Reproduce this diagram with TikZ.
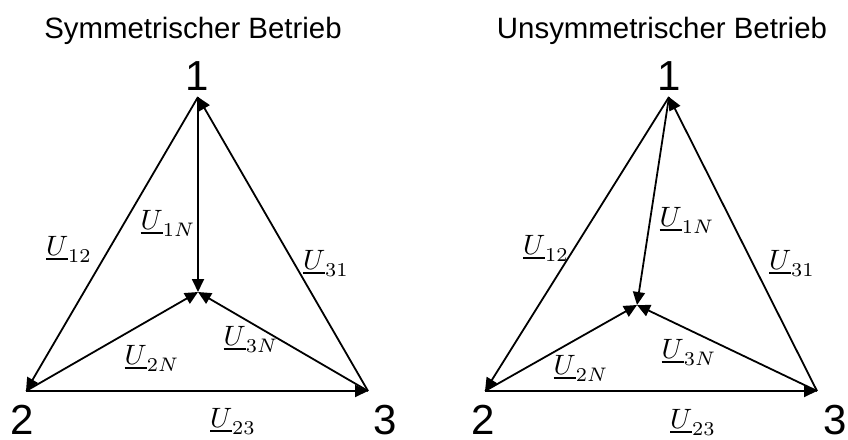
\documentclass[tikz,border=0pt]{standalone}
\usepackage{fontspec}
\newfontfamily\arialfont{Liberation Sans}
\usetikzlibrary{arrows.meta}
\tikzset{
  vec/.style={draw=black, line width=1.8pt, -{Triangle[length=13pt,width=12pt]}},
  ttl/.style={font=\arialfont\fontsize{29.4}{34}\selectfont, anchor=base, inner sep=0pt},
  num/.style={font=\arialfont\fontsize{42}{48}\selectfont, anchor=base, inner sep=0pt},
  lbl/.style={scale=2.8, inner sep=0pt},
}
\begin{document}
\begin{tikzpicture}[x=1pt,y=-1pt]
\useasboundingbox (0,0) rectangle (848,439);
% ---- left: symmetric
\coordinate (A1) at (198,97);
\coordinate (A2) at (26,391);
\coordinate (A3) at (368,391);
\coordinate (AN) at (198,292);
\node[ttl] (tA) at (193,38) {Symmetrischer Betrieb};
\node[num] (nA1) at (197,90) {1};
\node[num] (nA2) at (22.5,434) {2};
\node[num] (nA3) at (385.5,434) {3};
\draw[vec] (A1) -- (A2);
\draw[vec] (A2) -- (A3);
\draw[vec] (A3) -- (A1);
\draw[vec] (A1) -- (AN);
\draw[vec] (A2) -- (AN);
\draw[vec] (A3) -- (AN);
\node[lbl] (lA12) at (69,249) {$\underline{U}_{12}$};
\node[lbl] (lA1N) at (168,223) {$\underline{U}_{1N}$};
\node[lbl] (lA31) at (326,263) {$\underline{U}_{31}$};
\node[lbl] (lA2N) at (152,358) {$\underline{U}_{2N}$};
\node[lbl] (lA3N) at (251,339) {$\underline{U}_{3N}$};
\node[lbl] (lA23) at (233,421) {$\underline{U}_{23}$};
% ---- right: unsymmetric
\coordinate (B1) at (669,97);
\coordinate (B2) at (485,391);
\coordinate (B3) at (817,391);
\coordinate (BN) at (637,305);
\node[ttl] (tB) at (662,38) {Unsymmetrischer Betrieb};
\node[num] (nB1) at (669,90) {1};
\node[num] (nB2) at (483,434) {2};
\node[num] (nB3) at (835,434) {3};
\draw[vec] (B1) -- (B2);
\draw[vec] (B2) -- (B3);
\draw[vec] (B3) -- (B1);
\draw[vec] (B1) -- (BN);
\draw[vec] (B2) -- (BN);
\draw[vec] (B3) -- (BN);
\node[lbl] (lB12) at (546,248) {$\underline{U}_{12}$};
\node[lbl] (lB1N) at (687,220) {$\underline{U}_{1N}$};
\node[lbl] (lB31) at (792,263) {$\underline{U}_{31}$};
\node[lbl] (lB2N) at (581,368) {$\underline{U}_{2N}$};
\node[lbl] (lB3N) at (689,352) {$\underline{U}_{3N}$};
\node[lbl] (lB23) at (693,422) {$\underline{U}_{23}$};
\end{tikzpicture}
\end{document}
